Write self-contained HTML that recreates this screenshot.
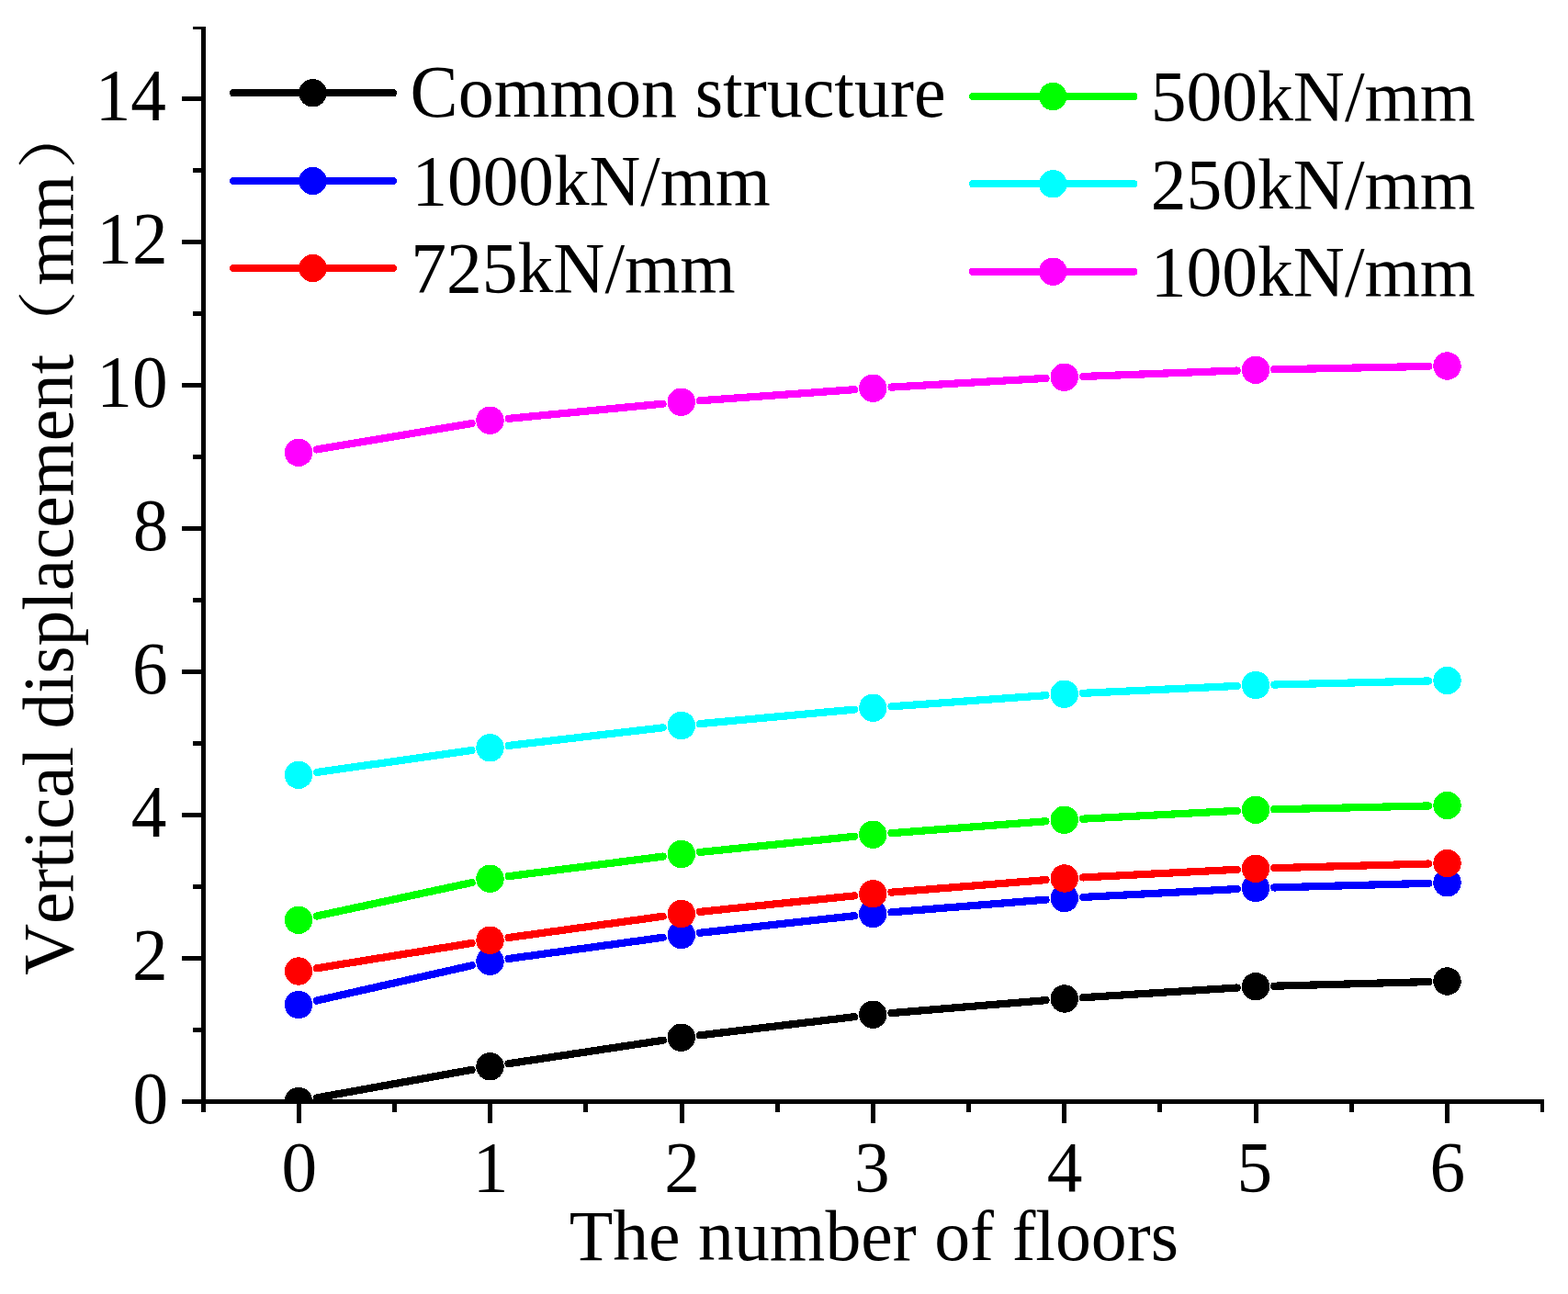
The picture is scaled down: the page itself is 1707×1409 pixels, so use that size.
<!DOCTYPE html>
<html lang="en"><head><meta charset="utf-8"><title>Vertical displacement vs. the number of floors</title>
<style>
html,body{margin:0;padding:0;background:#fff;}
body{width:1707px;height:1409px;overflow:hidden;}
svg{display:block;}
text{font-family:"Liberation Serif","Noto Serif CJK SC",serif;font-size:77.3px;fill:#000;font-variant-ligatures:none;font-kerning:none;}
.ln{fill:none;stroke-width:8.2;stroke-linecap:round;}
</style></head><body>
<svg width="1707" height="1409" viewBox="0 0 1707 1409">
<rect width="1707" height="1409" fill="#fff"/>
<defs><clipPath id="plot"><rect x="219" y="29" width="1462" height="1171"/></clipPath></defs>
<g clip-path="url(#plot)" shape-rendering="crispEdges">
<g stroke="#000000" fill="#000000">
<path class="ln" d="M344.98 1195.38L513.52 1164.87M553.57 1158.21L721.68 1132.79M761.91 1127.33L930.09 1107.17M970.48 1103.08L1138.52 1089.17M1179.01 1086.21L1346.74 1075.54M1387.29 1073.69L1555.21 1069.06"/>
<circle cx="325.00" cy="1199.00" r="15.2" stroke="none"/>
<circle cx="533.50" cy="1161.25" r="15.2" stroke="none"/>
<circle cx="741.75" cy="1129.75" r="15.2" stroke="none"/>
<circle cx="950.25" cy="1104.75" r="15.2" stroke="none"/>
<circle cx="1158.75" cy="1087.50" r="15.2" stroke="none"/>
<circle cx="1367.00" cy="1074.25" r="15.2" stroke="none"/>
<circle cx="1575.50" cy="1068.50" r="15.2" stroke="none"/>
</g>
<g stroke="#0000ff" fill="#0000ff">
<path class="ln" d="M344.80 1089.51L513.70 1051.24M553.61 1043.97L721.64 1020.78M761.93 1015.77L930.07 997.23M970.48 993.35L1138.52 979.65M1179.02 976.93L1346.73 968.07M1387.29 966.44L1555.21 961.81"/>
<circle cx="325.00" cy="1094.00" r="15.2" stroke="none"/>
<circle cx="533.50" cy="1046.75" r="15.2" stroke="none"/>
<circle cx="741.75" cy="1018.00" r="15.2" stroke="none"/>
<circle cx="950.25" cy="995.00" r="15.2" stroke="none"/>
<circle cx="1158.75" cy="978.00" r="15.2" stroke="none"/>
<circle cx="1367.00" cy="967.00" r="15.2" stroke="none"/>
<circle cx="1575.50" cy="961.25" r="15.2" stroke="none"/>
</g>
<g stroke="#ff0000" fill="#ff0000">
<path class="ln" d="M345.04 1054.26L513.46 1026.99M553.61 1020.97L721.64 997.78M761.94 992.89L930.06 975.36M970.48 971.62L1138.52 958.13M1179.02 955.45L1346.73 946.80M1387.29 945.19L1555.21 940.56"/>
<circle cx="325.00" cy="1057.50" r="15.2" stroke="none"/>
<circle cx="533.50" cy="1023.75" r="15.2" stroke="none"/>
<circle cx="741.75" cy="995.00" r="15.2" stroke="none"/>
<circle cx="950.25" cy="973.25" r="15.2" stroke="none"/>
<circle cx="1158.75" cy="956.50" r="15.2" stroke="none"/>
<circle cx="1367.00" cy="945.75" r="15.2" stroke="none"/>
<circle cx="1575.50" cy="940.00" r="15.2" stroke="none"/>
</g>
<g stroke="#00ff00" fill="#00ff00">
<path class="ln" d="M344.84 997.47L513.66 961.03M553.63 954.16L721.62 932.59M761.95 927.94L930.05 910.81M970.49 907.20L1138.51 894.30M1179.02 891.68L1346.73 882.82M1387.29 881.29L1555.21 877.46"/>
<circle cx="325.00" cy="1001.75" r="15.2" stroke="none"/>
<circle cx="533.50" cy="956.75" r="15.2" stroke="none"/>
<circle cx="741.75" cy="930.00" r="15.2" stroke="none"/>
<circle cx="950.25" cy="908.75" r="15.2" stroke="none"/>
<circle cx="1158.75" cy="892.75" r="15.2" stroke="none"/>
<circle cx="1367.00" cy="881.75" r="15.2" stroke="none"/>
<circle cx="1575.50" cy="877.00" r="15.2" stroke="none"/>
</g>
<g stroke="#00ffff" fill="#00ffff">
<path class="ln" d="M345.10 840.91L513.40 817.09M553.66 811.90L721.59 792.35M761.96 788.13L930.04 772.62M970.50 769.29L1138.50 757.21M1179.03 754.80L1346.72 746.95M1387.29 745.51L1555.21 741.49"/>
<circle cx="325.00" cy="843.75" r="15.2" stroke="none"/>
<circle cx="533.50" cy="814.25" r="15.2" stroke="none"/>
<circle cx="741.75" cy="790.00" r="15.2" stroke="none"/>
<circle cx="950.25" cy="770.75" r="15.2" stroke="none"/>
<circle cx="1158.75" cy="755.75" r="15.2" stroke="none"/>
<circle cx="1367.00" cy="746.00" r="15.2" stroke="none"/>
<circle cx="1575.50" cy="741.00" r="15.2" stroke="none"/>
</g>
<g stroke="#ff00ff" fill="#ff00ff">
<path class="ln" d="M345.02 489.39L513.48 461.11M553.71 455.81L721.54 439.69M762.00 436.29L930.00 424.21M970.52 421.58L1138.48 411.92M1179.04 409.97L1346.71 403.53M1387.30 402.34L1555.20 398.91"/>
<circle cx="325.00" cy="492.75" r="15.2" stroke="none"/>
<circle cx="533.50" cy="457.75" r="15.2" stroke="none"/>
<circle cx="741.75" cy="437.75" r="15.2" stroke="none"/>
<circle cx="950.25" cy="422.75" r="15.2" stroke="none"/>
<circle cx="1158.75" cy="410.75" r="15.2" stroke="none"/>
<circle cx="1367.00" cy="402.75" r="15.2" stroke="none"/>
<circle cx="1575.50" cy="398.50" r="15.2" stroke="none"/>
</g>
</g>
<g fill="#000" shape-rendering="crispEdges">
<rect x="219" y="29" width="5" height="1182"/>
<rect x="198" y="1197" width="1483" height="5"/>
<rect x="198" y="1197.0" width="21" height="5"/>
<rect x="210" y="1119.0" width="9" height="5.0"/>
<rect x="198" y="1041.0" width="21" height="5"/>
<rect x="210" y="963.0" width="9" height="5.0"/>
<rect x="198" y="885.0" width="21" height="5"/>
<rect x="210" y="807.0" width="9" height="5.0"/>
<rect x="198" y="729.0" width="21" height="5"/>
<rect x="210" y="651.0" width="9" height="5.0"/>
<rect x="198" y="573.0" width="21" height="5"/>
<rect x="210" y="495.0" width="9" height="5.0"/>
<rect x="198" y="417.0" width="21" height="5"/>
<rect x="210" y="339.0" width="9" height="5.0"/>
<rect x="198" y="261.0" width="21" height="5"/>
<rect x="210" y="183.0" width="9" height="5.0"/>
<rect x="198" y="105.0" width="21" height="5"/>
<rect x="210" y="29.0" width="9" height="3.0"/>
<rect x="323.0" y="1202" width="5" height="21"/>
<rect x="427.0" y="1202" width="5.0" height="9"/>
<rect x="531.0" y="1202" width="5" height="21"/>
<rect x="635.0" y="1202" width="5.0" height="9"/>
<rect x="740.0" y="1202" width="5" height="21"/>
<rect x="844.0" y="1202" width="5.0" height="9"/>
<rect x="948.0" y="1202" width="5" height="21"/>
<rect x="1052.0" y="1202" width="5.0" height="9"/>
<rect x="1156.0" y="1202" width="5" height="21"/>
<rect x="1260.0" y="1202" width="5.0" height="9"/>
<rect x="1365.0" y="1202" width="5" height="21"/>
<rect x="1469.0" y="1202" width="5.0" height="9"/>
<rect x="1573.0" y="1202" width="5" height="21"/>
<rect x="1677.0" y="1202" width="4.0" height="9"/>
</g>
<text transform="translate(183.2,1222.5) scale(1,1.03)" text-anchor="end" style="font-size:77.3px">0</text>
<text transform="translate(182.7,1066.5) scale(1,1.03)" text-anchor="end" style="font-size:77.3px">2</text>
<text transform="translate(181.5,910.5) scale(1,1.03)" text-anchor="end" style="font-size:77.3px">4</text>
<text transform="translate(182.6,754.5) scale(1,1.03)" text-anchor="end" style="font-size:77.3px">6</text>
<text transform="translate(183.4,598.5) scale(1,1.03)" text-anchor="end" style="font-size:77.3px">8</text>
<text transform="translate(182.6,442.5) scale(1,1.03)" text-anchor="end" style="font-size:77.3px">10</text>
<text transform="translate(182.6,286.5) scale(1,1.03)" text-anchor="end" style="font-size:77.3px">12</text>
<text transform="translate(181.0,130.5) scale(1,1.03)" text-anchor="end" style="font-size:77.3px">14</text>
<text transform="translate(325.8,1297.2) scale(1,1.02)" text-anchor="middle" style="font-size:77.3px">0</text>
<text transform="translate(534.1,1297.2) scale(1,1.02)" text-anchor="middle" style="font-size:77.3px">1</text>
<text transform="translate(742.5,1297.2) scale(1,1.02)" text-anchor="middle" style="font-size:77.3px">2</text>
<text transform="translate(949.3,1297.2) scale(1,1.02)" text-anchor="middle" style="font-size:77.3px">3</text>
<text transform="translate(1159.1,1297.2) scale(1,1.02)" text-anchor="middle" style="font-size:77.3px">4</text>
<text transform="translate(1365.7,1297.2) scale(1,1.02)" text-anchor="middle" style="font-size:77.3px">5</text>
<text transform="translate(1575.8,1297.2) scale(1,1.02)" text-anchor="middle" style="font-size:77.3px">6</text>
<text transform="translate(951.3,1371.6) scale(1,1.0)" text-anchor="middle" style="font-size:77.8px">The number of floors</text>
<text transform="translate(79.1,1061.8) rotate(-90) scale(1,1.02)" style="font-size:77.3px">Vertical displacement<tspan style="font-size:63.5px" textLength="77" lengthAdjust="spacingAndGlyphs" dx="-7.0" dy="-4.5">（</tspan><tspan dx="5.0" dy="4.5">mm</tspan><tspan style="font-size:63.5px" textLength="77" lengthAdjust="spacingAndGlyphs" dx="6.4" dy="-4.5">）</tspan></text>
<g stroke="#000000" fill="#000000" shape-rendering="crispEdges"><path class="ln" d="M254.1 101.2L427.9 101.2"/><circle cx="340.5" cy="101.2" r="15.2" stroke="none"/></g>
<text transform="translate(446.6,127.0) scale(1,1.02)" style="font-size:78.05px">Common structure</text>
<g stroke="#0000ff" fill="#0000ff" shape-rendering="crispEdges"><path class="ln" d="M254.1 197.0L427.9 197.0"/><circle cx="340.5" cy="197.0" r="15.2" stroke="none"/></g>
<text transform="translate(448.5,223.2) scale(1,1.02)" style="font-size:77.2px">1000kN/mm</text>
<g stroke="#ff0000" fill="#ff0000" shape-rendering="crispEdges"><path class="ln" d="M254.1 292.0L427.9 292.0"/><circle cx="340.5" cy="292.0" r="15.2" stroke="none"/></g>
<text transform="translate(447.2,318.0) scale(1,1.02)" style="font-size:77.6px">725kN/mm</text>
<g stroke="#00ff00" fill="#00ff00" shape-rendering="crispEdges"><path class="ln" d="M1059.1 105.0L1234.4 105.0"/><circle cx="1146.3" cy="105.0" r="15.2" stroke="none"/></g>
<text transform="translate(1252.7,131.2) scale(1,1.02)" style="font-size:77.6px">500kN/mm</text>
<g stroke="#00ffff" fill="#00ffff" shape-rendering="crispEdges"><path class="ln" d="M1059.1 200.3L1234.4 200.3"/><circle cx="1146.3" cy="200.3" r="15.2" stroke="none"/></g>
<text transform="translate(1252.7,227.0) scale(1,1.02)" style="font-size:77.6px">250kN/mm</text>
<g stroke="#ff00ff" fill="#ff00ff" shape-rendering="crispEdges"><path class="ln" d="M1059.1 295.7L1234.4 295.7"/><circle cx="1146.3" cy="295.7" r="15.2" stroke="none"/></g>
<text transform="translate(1252.7,322.0) scale(1,1.02)" style="font-size:77.6px">100kN/mm</text>
</svg>
</body></html>
